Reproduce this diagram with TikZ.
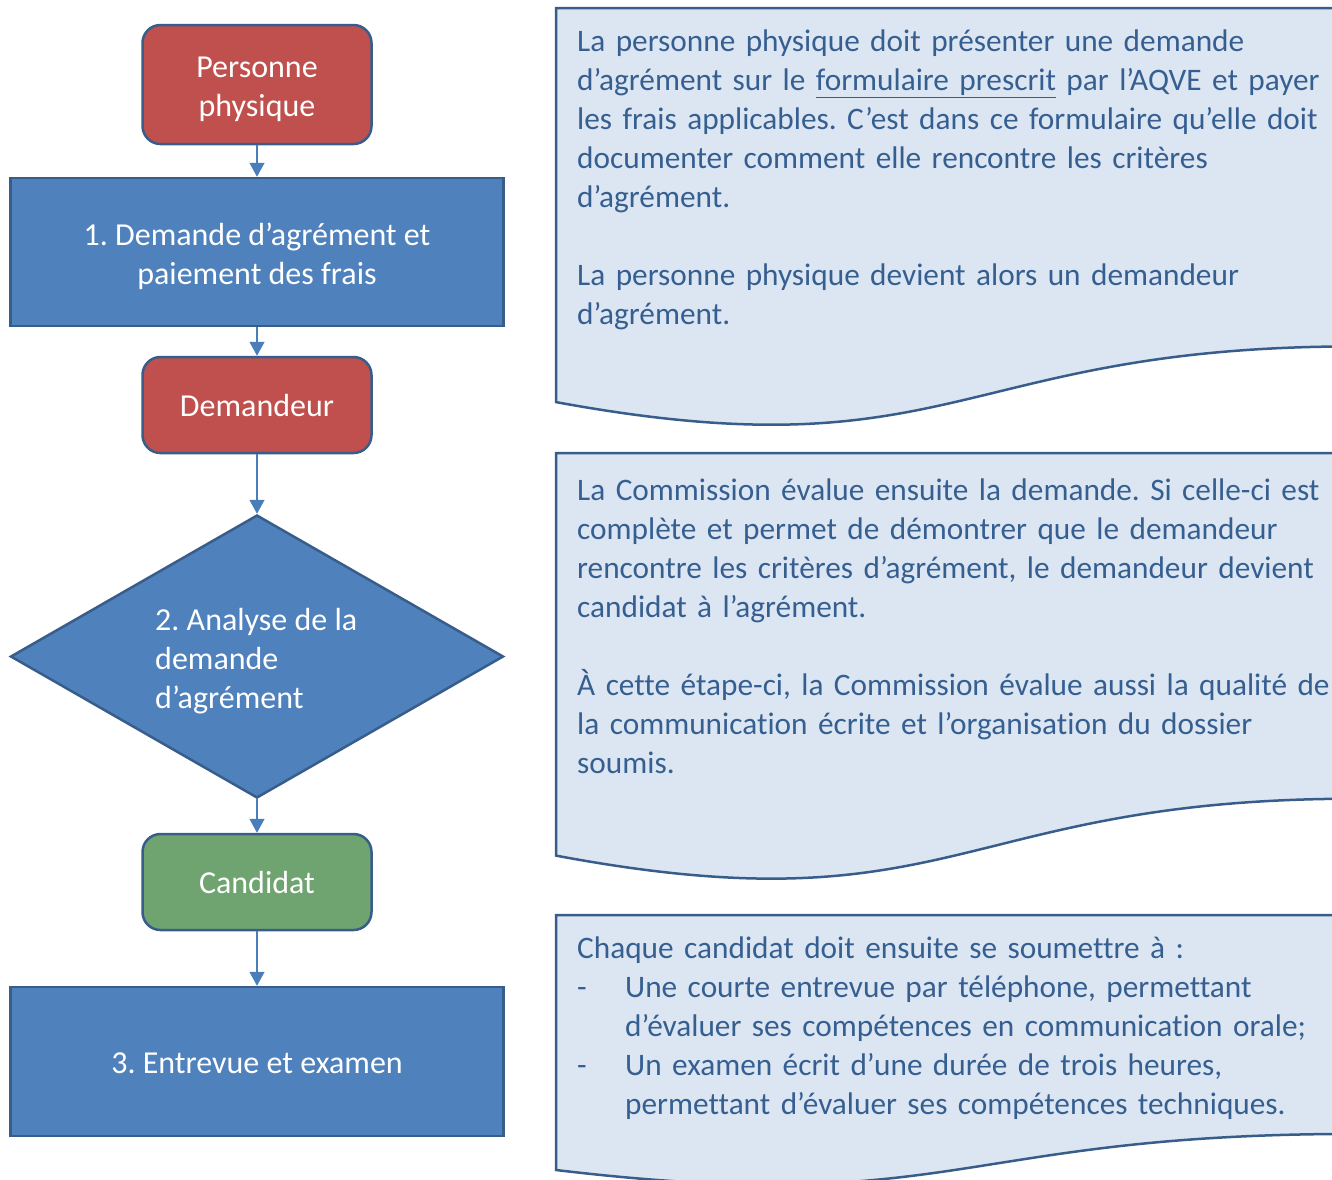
\documentclass[tikz,border=0pt]{standalone}
\usepackage{fontspec}
\setmainfont{Carlito}[Ligatures=NoCommon]
\usetikzlibrary{shapes.geometric,arrows.meta}
\definecolor{accblue}{HTML}{4F81BD}
\definecolor{accred}{HTML}{C0504D}
\definecolor{accgreen}{HTML}{6FA36F}
\definecolor{edgeblue}{HTML}{385D8A}
\definecolor{docfill}{HTML}{DCE6F2}
\definecolor{doctext}{HTML}{365F91}
\definecolor{arrowblue}{HTML}{4A7EBB}
\frenchspacing
\begin{document}
\begin{tikzpicture}[x=1pt,y=-1pt,
  bigfont/.style={font=\fontsize{32pt}{39pt}\selectfont},
  docfont/.style={font=\fontsize{31.3pt}{39pt}\selectfont},
  shapebase/.style={draw=edgeblue, line width=2.5pt, inner sep=0pt},
  roundbox/.style={shapebase, rounded corners=18pt, minimum width=229pt},
  stepbox/.style={shapebase, fill=accblue, minimum width=493pt},
  decbox/.style={shapebase, fill=accblue, diamond, aspect=1.742, minimum width=493pt, minimum height=283pt},
  lbl/.style={text=white, bigfont, align=center, inner sep=0pt},
  docshape/.style={draw=edgeblue, line width=2.5pt, fill=docfill},
  doctxt/.style={anchor=base west, inner sep=0pt, text width=820pt, align=left, text=doctext, docfont},
  arr/.style={draw=arrowblue, line width=1.5pt, -{Triangle[width=15pt,length=14pt]}}
]
\useasboundingbox (0,0) rectangle (1332,1179);

% left flow
\node[roundbox, fill=accred, minimum height=119pt] (pp) at (257,84.5) {};
\node[lbl] (ppl) at ([yshift=-4.5pt]pp.center) {Personne\\physique};
\node[stepbox, minimum height=148pt] (s1) at (257,252) {};
\node[lbl] (s1l) at ([yshift=-4pt]s1.center) {1. Demande d’agrément et\\paiement des frais};
\node[roundbox, fill=accred, minimum height=96pt] (dem) at (257,405) {};
\node[lbl] (deml) at (dem.center) {Demandeur};
\node[decbox] (s2) at (257,656.5) {};
\node[lbl, align=left, anchor=west] (s2l) at (155,661.5) {2. Analyse de la\\demande\\d’agrément};
\node[roundbox, fill=accgreen, minimum height=96pt] (cand) at (257,882) {};
\node[lbl] (candl) at (cand.center) {Candidat};
\node[stepbox, minimum height=149pt] (s3) at (257,1061.5) {};
\node[lbl] (s3l) at ([yshift=-1.5pt]s3.center) {3. Entrevue et examen};

\draw[arr] (pp) -- (s1);
\draw[arr] (s1) -- (dem);
\draw[arr] (dem) -- (s2);
\draw[arr] (s2) -- (cand);
\draw[arr] (cand) -- (s3);

% document shapes
\draw[docshape] (556,8) -- (1356,8) -- (1356,346.4) .. controls (956,346.4) and (956,475.6) .. (556,402.1) -- cycle;
\draw[docshape] (556,453) -- (1356,453) -- (1356,798.7) .. controls (956,798.7) and (956,930.5) .. (556,855.6) -- cycle;
\draw[docshape] (556,915) -- (1356,915) -- (1356,1133.9) .. controls (956,1133.9) and (956,1217.5) .. (556,1170) -- cycle;

\node[doctxt] (t1) at (577,51.5) {La personne physique doit présenter une demande\\
d’agrément sur le \underline{formulaire prescrit} par l’AQVE et payer\\
les frais applicables. C’est dans ce formulaire qu’elle doit\\
documenter comment elle rencontre les critères\\
d’agrément.\\[39pt]
La personne physique devient alors un demandeur\\
d’agrément.};

\node[doctxt] (t2) at (577,500.5) {La Commission évalue ensuite la demande. Si celle-ci est\\
complète et permet de démontrer que le demandeur\\
rencontre les critères d’agrément, le demandeur devient\\
candidat à l’agrément.\\[39pt]
À cette étape-ci, la Commission évalue aussi la qualité de\\
la communication écrite et l’organisation du dossier\\
soumis.};

\node[doctxt] (t3) at (577,958.5) {Chaque candidat doit ensuite se soumettre à :\\
\makebox[48pt][l]{-}Une courte entrevue par téléphone, permettant\\
\hspace*{48pt}d’évaluer ses compétences en communication orale;\\
\makebox[48pt][l]{-}Un examen écrit d’une durée de trois heures,\\
\hspace*{48pt}permettant d’évaluer ses compétences techniques.};
\end{tikzpicture}
\end{document}
